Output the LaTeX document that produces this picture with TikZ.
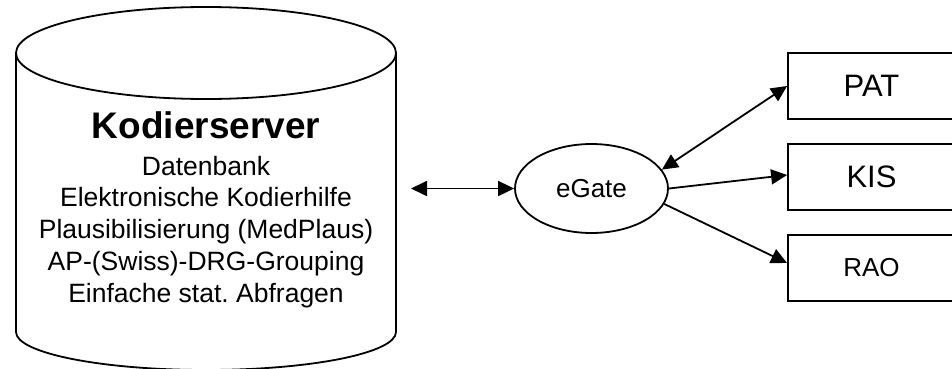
\documentclass[tikz,border=0pt]{standalone}
\usepackage{fontspec}
\setmainfont{Liberation Sans}
\usetikzlibrary{arrows.meta,shapes.geometric}
\frenchspacing
\begin{document}
\begin{tikzpicture}[x=1pt,y=1pt,
  line width=1.8pt,
  tip/.style={-{Triangle[length=16pt,width=15pt]}},
  dtip/.style={{Triangle[length=16pt,width=15pt]}-{Triangle[length=16pt,width=15pt]}},
  sysbox/.style={draw,rectangle,minimum width=167pt,minimum height=66pt,inner sep=0pt},
  bodytxt/.style={font=\fontsize{26.5}{31.7}\selectfont,align=center,inner sep=0pt}
]
\useasboundingbox (0,0) rectangle (952,368);
\clip (0,0) rectangle (952,368);
% cylinder
\draw (206,315) ellipse [x radius=190,y radius=46];
\draw (16,315) -- (16,36) arc[start angle=180,end angle=360,x radius=190,y radius=38] -- (396,315);
\node[inner sep=0pt,anchor=base,font=\bfseries\fontsize{37}{37}\selectfont] (title) at (206,230) {Kodierserver};
\node[bodytxt,anchor=base] (body) at (206,66) {Datenbank\\Elektronische Kodierhilfe\\Plausibilisierung (MedPlaus)\\AP-(Swiss)-DRG-Grouping\\Einfache stat. Abfragen};
% eGate
\node[draw,ellipse,minimum width=153pt,minimum height=89pt,inner sep=0pt,font=\fontsize{26}{26}\selectfont] (egate) at (591.5,179.5) {eGate};
\coordinate (srv) at (411,179.5);
% boxes
\node[sysbox,font=\fontsize{31}{31}\selectfont] (pat) at (871.5,282) {PAT};
\node[sysbox,font=\fontsize{31}{31}\selectfont] (kis) at (871.5,191) {KIS};
\node[sysbox,font=\fontsize{26}{26}\selectfont] (rao) at (871.5,100) {RAO};
% connectors
\draw[dtip] (srv) -- (egate.west);
\draw[dtip] (egate.15) -- (pat.west);
\draw[tip] (egate.east) -- ([yshift=2pt]kis.west);
\draw[tip] (egate.-12) -- ([yshift=5pt]rao.west);
\end{tikzpicture}
\end{document}
